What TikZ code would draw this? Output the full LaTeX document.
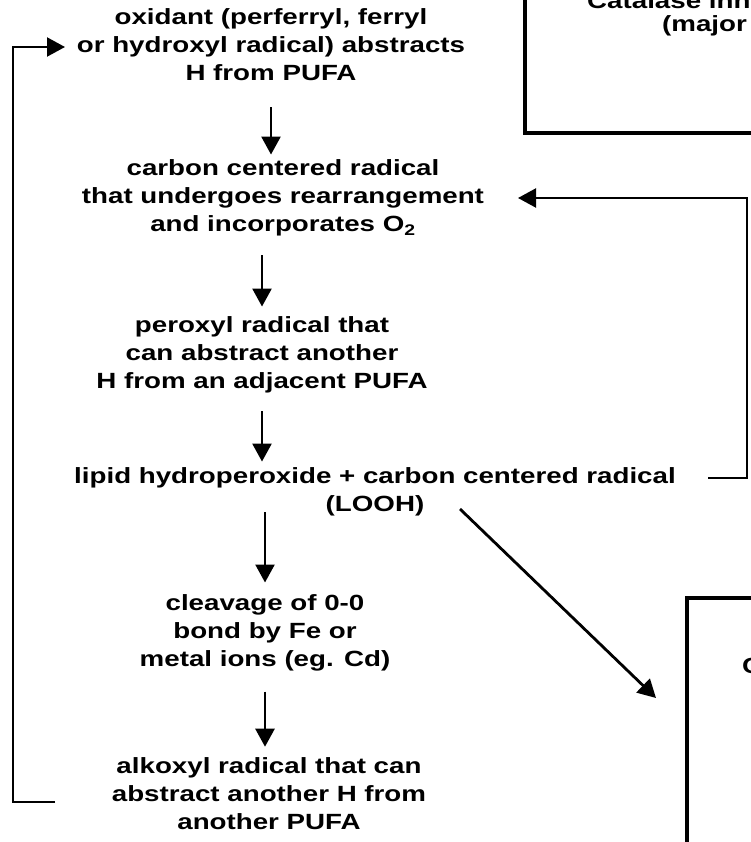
\documentclass[tikz,border=0pt]{standalone}
\usepackage{fontspec}
\setmainfont{Liberation Sans}[FakeStretch=1.26]
\usetikzlibrary{positioning,arrows.meta}

\tikzset{
  stage/.style={align=center, font=\fontsize{22}{28}\selectfont\bfseries, inner sep=0pt},
  flow/.style={->, line width=2.6pt},
  loop/.style={->, line width=2.2pt},
  panel/.style={draw, line width=4.2pt},
}

\begin{document}
\begin{tikzpicture}[x=1pt, y=-1pt, >={Triangle[length=18pt,width=19pt]}, line join=miter]
	\useasboundingbox (0,0) rectangle (750,842);
	% main chain
	\node[stage] (oxid) at (271,45) {oxidant (perferryl, ferryl\\or hydroxyl radical) abstracts\\H from PUFA};
	\node[stage] (carbon) at (283,198) {carbon centered radical\\that undergoes rearrangement\\and incorporates O\textsubscript{2}};
	\node[stage] (peroxyl) at (262,355) {peroxyl radical that\\can abstract another\\H from an adjacent PUFA};
	\node[stage] (lipid) at (375,492) {lipid hydroperoxide + carbon centered radical\\(LOOH)};
	\node[stage] (cleav) at (265,633) {cleavage of 0-0\\bond by Fe or\\metal ions (eg. Cd)};
	\node[stage] (alkoxyl) at (269,794) {alkoxyl radical that can\\abstract another H from\\another PUFA};
	\draw[flow, shorten <=26pt, shorten >=5pt] (oxid.south) -- (oxid.south |- carbon.north);
	\draw[flow, shorten <=19pt, shorten >=10pt] (carbon.south -| peroxyl) -- (peroxyl);
	\draw[flow, shorten <=18pt, shorten >=6pt] (peroxyl) -- (lipid.north -| peroxyl);
	\draw[flow, shorten <=-4pt, shorten >=12pt] (lipid.south -| cleav) -- (cleav);
	\draw[flow, shorten <=20pt, shorten >=11pt] (cleav) -- (alkoxyl.north -| cleav);
	% loops back
	\coordinate (backL) at (55,802);
	\coordinate (intoL) at (65,47);
	\draw[loop] (backL) -- (13,802) |- (intoL);
	\coordinate (backR) at (708,478);
	\coordinate (intoR) at (518,198);
	\draw[loop] (backR) -- (747,478) |- (intoR);
	\coordinate (diagA) at (460,509);
	\coordinate (diagB) at (656,698);
	\draw[->, line width=2.8pt] (diagA) -- (diagB);
	% boxes cut off at the edge
	\draw[panel] (525,-20) rectangle (800,133);
	\node[stage, anchor=base west] (cat0) at (587,9) {Catalase inhibition};
	\node[stage, anchor=base west] (cat) at (662,32) {(major};
	\draw[panel] (687,598) rectangle (800,900);
	\node[stage, anchor=base west] (lowC) at (742,673) {C};
\end{tikzpicture}
\end{document}
